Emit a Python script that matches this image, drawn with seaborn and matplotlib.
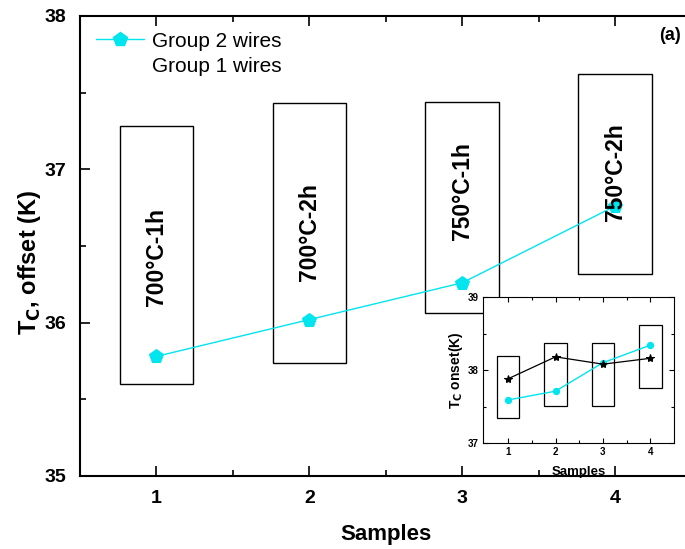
import matplotlib
matplotlib.use("Agg")
import matplotlib.pyplot as plt
from matplotlib.patches import Rectangle
from matplotlib.lines import Line2D
import seaborn as sns
import pandas as pd

sns.set_theme(style="ticks")
plt.rcParams['font.family'] = ['Liberation Sans', 'DejaVu Sans']
plt.rcParams['xtick.direction'] = 'in'
plt.rcParams['ytick.direction'] = 'in'
for k in ['text.color', 'axes.labelcolor', 'xtick.color', 'ytick.color', 'axes.edgecolor']:
    plt.rcParams[k] = 'black'

# ---- data ----
samples = [1, 2, 3, 4]
group2_offset = [35.78, 36.02, 36.26, 36.76]
box_labels = ["700°C-1h", "700°C-2h", "750°C-1h", "750°C-2h"]
box_top = [37.28, 37.43, 37.44, 37.62]
box_bottom = [35.60, 35.74, 36.06, 36.32]
label_y = [36.43, 36.59, 36.86, 36.98]

inset_group2 = [37.59, 37.71, 38.10, 38.34]
inset_group1 = [37.88, 38.18, 38.08, 38.16]
inset_box_top = [38.19, 38.37, 38.37, 38.62]
inset_box_bottom = [37.34, 37.51, 37.51, 37.76]

cyan = "#00e5ee"

fig = plt.figure(figsize=(6.85, 5.49), dpi=100)
ax = fig.add_axes([80/685, 1-476/549, 611.5/685, 460/549])

df = pd.DataFrame({"Samples": samples, "T": group2_offset})
sns.lineplot(data=df, x="Samples", y="T", ax=ax, color=cyan, lw=1,
             marker="p", markersize=10, markeredgecolor=cyan)

for s, t, b, lab, ly in zip(samples, box_top, box_bottom, box_labels, label_y):
    ax.add_patch(Rectangle((s - 0.24, b), 0.48, t - b, fill=False,
                           edgecolor="black", lw=1.0, zorder=1))
    ax.text(s, ly, lab, rotation=90, ha="center", va="center",
            fontsize=16.5, fontweight="bold")

ax.set_xlim(0.5, 4.5)
ax.set_ylim(35, 38)
ax.set_xticks(samples)
ax.set_xticks([1.5, 2.5, 3.5], minor=True)
ax.set_yticks([35, 36, 37, 38])
ax.set_yticks([35.5, 36.5, 37.5], minor=True)
ax.tick_params(which="both", top=True, right=False, labelsize=14, width=1.2, pad=10)
ax.tick_params(which="major", length=7)
ax.tick_params(which="minor", length=4)
for lbl in ax.get_xticklabels() + ax.get_yticklabels():
    lbl.set_fontweight("bold")
for sp in ax.spines.values():
    sp.set_linewidth(1.5)
ax.set_xlabel("Samples", fontsize=16, fontweight="bold", labelpad=12)
ax.set_ylabel("T$_\\mathbf{C}$, offset (K)", fontsize=17, fontweight="bold")
ax.yaxis.set_label_coords(-0.061, 0.465)
ax.text(4.43, 37.87, "(a)", fontsize=13, fontweight="bold", ha="right", va="center")

h1 = Line2D([], [], color=cyan, lw=1, marker="p", markersize=10, markeredgecolor=cyan)
h2 = Line2D([], [], color="none")
ax.legend([h1, h2], ["Group 2 wires", "Group 1 wires"], loc="upper left",
          bbox_to_anchor=(0.0, 1.0), frameon=False, fontsize=15,
          handlelength=2.3, handletextpad=0.4, labelspacing=0.32,
          borderaxespad=0.35)

# ---- inset ----
axi = fig.add_axes([483/685, 1-443/549, 191/685, 146/549])
dfi = pd.DataFrame({"Samples": samples * 2,
                    "T": inset_group2 + inset_group1,
                    "grp": ["g2"] * 4 + ["g1"] * 4})
sns.lineplot(data=dfi[dfi.grp == "g2"], x="Samples", y="T", ax=axi, color=cyan,
             lw=1, marker="o", markersize=4.5, markeredgecolor=cyan)
sns.lineplot(data=dfi[dfi.grp == "g1"], x="Samples", y="T", ax=axi, color="black",
             lw=0.9, marker="*", markersize=6, markeredgecolor="black")
for s, t, b in zip(samples, inset_box_top, inset_box_bottom):
    axi.add_patch(Rectangle((s - 0.24, b), 0.48, t - b, fill=False,
                            edgecolor="black", lw=0.9, zorder=1))
axi.set_xlim(0.47, 4.5)
axi.set_ylim(37, 39)
axi.set_xticks(samples)
axi.set_xticks([1.5, 2.5, 3.5], minor=True)
axi.set_yticks([37, 38, 39])
axi.set_yticks([37.5, 38.5], minor=True)
axi.tick_params(which="both", top=True, right=True, labelsize=7, width=0.8, pad=3)
axi.tick_params(which="major", length=3.5)
axi.tick_params(which="minor", length=2)
for lbl in axi.get_xticklabels() + axi.get_yticklabels():
    lbl.set_fontweight("bold")
for sp in axi.spines.values():
    sp.set_linewidth(0.8)
axi.set_xlabel("Samples", fontsize=9.5, fontweight="bold", labelpad=6)
axi.set_ylabel("T$_\\mathbf{C}$ onset(K)", fontsize=10, fontweight="bold", labelpad=2)

fig.savefig("out.png", dpi=100)
